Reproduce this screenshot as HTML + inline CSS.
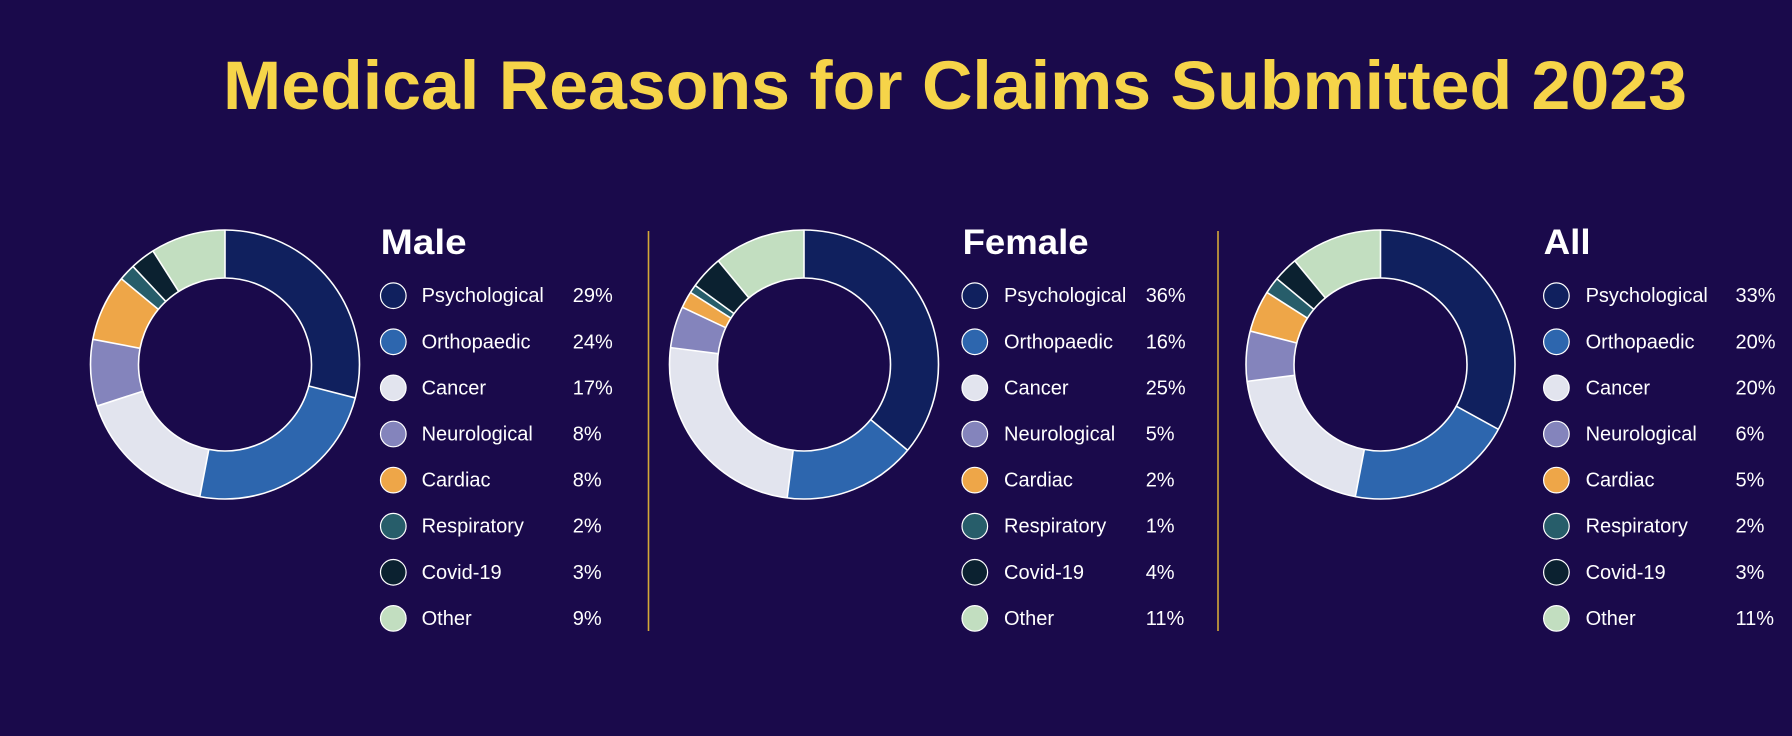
<!DOCTYPE html>
<html>
<head>
<meta charset="utf-8">
<style>
  html, body { margin:0; padding:0; background:#1a0a4b; }
  body { width:1792px; height:736px; overflow:hidden; }
  svg { display:block; }
  .title { font-family:"Liberation Sans", sans-serif; font-weight:bold; font-size:69px; fill:#f6d449; }
  .head { font-family:"Liberation Sans", sans-serif; font-weight:bold; font-size:35px; fill:#ffffff; }
  .lab { font-family:"Liberation Sans", sans-serif; font-size:20px; fill:#ffffff; }
</style>
</head>
<body>
<svg width="1792" height="736" viewBox="0 0 1792 736" xmlns="http://www.w3.org/2000/svg">
  <rect width="1792" height="736" fill="#1a0a4b"/>
  <text class="title" x="223" y="109" textLength="1464" lengthAdjust="spacingAndGlyphs">Medical Reasons for Claims Submitted 2023</text>

  <!-- separators -->
  <line x1="648.5" y1="231" x2="648.5" y2="631" stroke="#d4a838" stroke-width="1.6"/>
  <line x1="1218" y1="231" x2="1218" y2="631" stroke="#d4a838" stroke-width="1.6"/>

  <!-- ===== MALE DONUT ===== -->
  <g transform="translate(225,364.5)">
    <g transform="rotate(-90)" fill="none" stroke-width="48">
      <circle r="110.5" pathLength="100" stroke="#10205e" stroke-dasharray="29 71" stroke-dashoffset="0"/>
      <circle r="110.5" pathLength="100" stroke="#2d66ae" stroke-dasharray="24 76" stroke-dashoffset="-29"/>
      <circle r="110.5" pathLength="100" stroke="#e2e4ee" stroke-dasharray="17 83" stroke-dashoffset="-53"/>
      <circle r="110.5" pathLength="100" stroke="#8484bc" stroke-dasharray="8 92" stroke-dashoffset="-70"/>
      <circle r="110.5" pathLength="100" stroke="#eea648" stroke-dasharray="8 92" stroke-dashoffset="-78"/>
      <circle r="110.5" pathLength="100" stroke="#275d6a" stroke-dasharray="2 98" stroke-dashoffset="-86"/>
      <circle r="110.5" pathLength="100" stroke="#0b2130" stroke-dasharray="3 97" stroke-dashoffset="-88"/>
      <circle r="110.5" pathLength="100" stroke="#c2dec0" stroke-dasharray="9 91" stroke-dashoffset="-91"/>
    </g>
    <g stroke="#ffffff" stroke-width="1.6">
      <line x1="0" y1="-86.5" x2="0" y2="-134.5" transform="rotate(0)"/>
      <line x1="0" y1="-86.5" x2="0" y2="-134.5" transform="rotate(104.4)"/>
      <line x1="0" y1="-86.5" x2="0" y2="-134.5" transform="rotate(190.8)"/>
      <line x1="0" y1="-86.5" x2="0" y2="-134.5" transform="rotate(252)"/>
      <line x1="0" y1="-86.5" x2="0" y2="-134.5" transform="rotate(280.8)"/>
      <line x1="0" y1="-86.5" x2="0" y2="-134.5" transform="rotate(309.6)"/>
      <line x1="0" y1="-86.5" x2="0" y2="-134.5" transform="rotate(316.8)"/>
      <line x1="0" y1="-86.5" x2="0" y2="-134.5" transform="rotate(327.6)"/>
      <circle r="134.5" fill="none"/>
      <circle r="86.5" fill="none"/>
    </g>
  </g>

  <!-- ===== FEMALE DONUT ===== -->
  <g transform="translate(804,364.5)">
    <g transform="rotate(-90)" fill="none" stroke-width="48">
      <circle r="110.5" pathLength="100" stroke="#10205e" stroke-dasharray="36 64" stroke-dashoffset="0"/>
      <circle r="110.5" pathLength="100" stroke="#2d66ae" stroke-dasharray="16 84" stroke-dashoffset="-36"/>
      <circle r="110.5" pathLength="100" stroke="#e2e4ee" stroke-dasharray="25 75" stroke-dashoffset="-52"/>
      <circle r="110.5" pathLength="100" stroke="#8484bc" stroke-dasharray="5 95" stroke-dashoffset="-77"/>
      <circle r="110.5" pathLength="100" stroke="#eea648" stroke-dasharray="2 98" stroke-dashoffset="-82"/>
      <circle r="110.5" pathLength="100" stroke="#275d6a" stroke-dasharray="1 99" stroke-dashoffset="-84"/>
      <circle r="110.5" pathLength="100" stroke="#0b2130" stroke-dasharray="4 96" stroke-dashoffset="-85"/>
      <circle r="110.5" pathLength="100" stroke="#c2dec0" stroke-dasharray="11 89" stroke-dashoffset="-89"/>
    </g>
    <g stroke="#ffffff" stroke-width="1.6">
      <line x1="0" y1="-86.5" x2="0" y2="-134.5" transform="rotate(0)"/>
      <line x1="0" y1="-86.5" x2="0" y2="-134.5" transform="rotate(129.6)"/>
      <line x1="0" y1="-86.5" x2="0" y2="-134.5" transform="rotate(187.2)"/>
      <line x1="0" y1="-86.5" x2="0" y2="-134.5" transform="rotate(277.2)"/>
      <line x1="0" y1="-86.5" x2="0" y2="-134.5" transform="rotate(295.2)"/>
      <line x1="0" y1="-86.5" x2="0" y2="-134.5" transform="rotate(302.4)"/>
      <line x1="0" y1="-86.5" x2="0" y2="-134.5" transform="rotate(306)"/>
      <line x1="0" y1="-86.5" x2="0" y2="-134.5" transform="rotate(320.4)"/>
      <circle r="134.5" fill="none"/>
      <circle r="86.5" fill="none"/>
    </g>
  </g>

  <!-- ===== ALL DONUT ===== -->
  <g transform="translate(1380.5,364.5)">
    <g transform="rotate(-90)" fill="none" stroke-width="48">
      <circle r="110.5" pathLength="100" stroke="#10205e" stroke-dasharray="33 67" stroke-dashoffset="0"/>
      <circle r="110.5" pathLength="100" stroke="#2d66ae" stroke-dasharray="20 80" stroke-dashoffset="-33"/>
      <circle r="110.5" pathLength="100" stroke="#e2e4ee" stroke-dasharray="20 80" stroke-dashoffset="-53"/>
      <circle r="110.5" pathLength="100" stroke="#8484bc" stroke-dasharray="6 94" stroke-dashoffset="-73"/>
      <circle r="110.5" pathLength="100" stroke="#eea648" stroke-dasharray="5 95" stroke-dashoffset="-79"/>
      <circle r="110.5" pathLength="100" stroke="#275d6a" stroke-dasharray="2 98" stroke-dashoffset="-84"/>
      <circle r="110.5" pathLength="100" stroke="#0b2130" stroke-dasharray="3 97" stroke-dashoffset="-86"/>
      <circle r="110.5" pathLength="100" stroke="#c2dec0" stroke-dasharray="11 89" stroke-dashoffset="-89"/>
    </g>
    <g stroke="#ffffff" stroke-width="1.6">
      <line x1="0" y1="-86.5" x2="0" y2="-134.5" transform="rotate(0)"/>
      <line x1="0" y1="-86.5" x2="0" y2="-134.5" transform="rotate(118.8)"/>
      <line x1="0" y1="-86.5" x2="0" y2="-134.5" transform="rotate(190.8)"/>
      <line x1="0" y1="-86.5" x2="0" y2="-134.5" transform="rotate(262.8)"/>
      <line x1="0" y1="-86.5" x2="0" y2="-134.5" transform="rotate(284.4)"/>
      <line x1="0" y1="-86.5" x2="0" y2="-134.5" transform="rotate(302.4)"/>
      <line x1="0" y1="-86.5" x2="0" y2="-134.5" transform="rotate(309.6)"/>
      <line x1="0" y1="-86.5" x2="0" y2="-134.5" transform="rotate(320.4)"/>
      <circle r="134.5" fill="none"/>
      <circle r="86.5" fill="none"/>
    </g>
  </g>

  <!-- ===== MALE LEGEND ===== -->
  <text class="head" x="380.7" y="254" textLength="86" lengthAdjust="spacingAndGlyphs">Male</text>
  <g stroke="#ffffff" stroke-width="1.2">
    <circle cx="393.3" cy="295.7" r="12.8" fill="#10205e"/>
    <circle cx="393.3" cy="341.8" r="12.8" fill="#2d66ae"/>
    <circle cx="393.3" cy="387.9" r="12.8" fill="#e2e4ee"/>
    <circle cx="393.3" cy="434" r="12.8" fill="#8484bc"/>
    <circle cx="393.3" cy="480.1" r="12.8" fill="#eea648"/>
    <circle cx="393.3" cy="526.2" r="12.8" fill="#275d6a"/>
    <circle cx="393.3" cy="572.3" r="12.8" fill="#0b2130"/>
    <circle cx="393.3" cy="618.4" r="12.8" fill="#c2dec0"/>
  </g>
  <g class="lab">
    <text class="lab" x="421.6" y="302.2">Psychological</text>
    <text class="lab" x="421.6" y="348.3">Orthopaedic</text>
    <text class="lab" x="421.6" y="394.4">Cancer</text>
    <text class="lab" x="421.6" y="440.5">Neurological</text>
    <text class="lab" x="421.6" y="486.6">Cardiac</text>
    <text class="lab" x="421.6" y="532.7">Respiratory</text>
    <text class="lab" x="421.6" y="578.8">Covid-19</text>
    <text class="lab" x="421.6" y="624.9">Other</text>
    <text class="lab" x="572.8" y="302.2">29%</text>
    <text class="lab" x="572.8" y="348.3">24%</text>
    <text class="lab" x="572.8" y="394.4">17%</text>
    <text class="lab" x="572.8" y="440.5">8%</text>
    <text class="lab" x="572.8" y="486.6">8%</text>
    <text class="lab" x="572.8" y="532.7">2%</text>
    <text class="lab" x="572.8" y="578.8">3%</text>
    <text class="lab" x="572.8" y="624.9">9%</text>
  </g>

  <!-- ===== FEMALE LEGEND ===== -->
  <text class="head" x="962.6" y="254" textLength="126" lengthAdjust="spacingAndGlyphs">Female</text>
  <g stroke="#ffffff" stroke-width="1.2">
    <circle cx="974.8" cy="295.7" r="12.8" fill="#10205e"/>
    <circle cx="974.8" cy="341.8" r="12.8" fill="#2d66ae"/>
    <circle cx="974.8" cy="387.9" r="12.8" fill="#e2e4ee"/>
    <circle cx="974.8" cy="434" r="12.8" fill="#8484bc"/>
    <circle cx="974.8" cy="480.1" r="12.8" fill="#eea648"/>
    <circle cx="974.8" cy="526.2" r="12.8" fill="#275d6a"/>
    <circle cx="974.8" cy="572.3" r="12.8" fill="#0b2130"/>
    <circle cx="974.8" cy="618.4" r="12.8" fill="#c2dec0"/>
  </g>
  <g>
    <text class="lab" x="1004" y="302.2">Psychological</text>
    <text class="lab" x="1004" y="348.3">Orthopaedic</text>
    <text class="lab" x="1004" y="394.4">Cancer</text>
    <text class="lab" x="1004" y="440.5">Neurological</text>
    <text class="lab" x="1004" y="486.6">Cardiac</text>
    <text class="lab" x="1004" y="532.7">Respiratory</text>
    <text class="lab" x="1004" y="578.8">Covid-19</text>
    <text class="lab" x="1004" y="624.9">Other</text>
    <text class="lab" x="1145.7" y="302.2">36%</text>
    <text class="lab" x="1145.7" y="348.3">16%</text>
    <text class="lab" x="1145.7" y="394.4">25%</text>
    <text class="lab" x="1145.7" y="440.5">5%</text>
    <text class="lab" x="1145.7" y="486.6">2%</text>
    <text class="lab" x="1145.7" y="532.7">1%</text>
    <text class="lab" x="1145.7" y="578.8">4%</text>
    <text class="lab" x="1145.7" y="624.9">11%</text>
  </g>

  <!-- ===== ALL LEGEND ===== -->
  <text class="head" x="1543.6" y="254" textLength="47" lengthAdjust="spacingAndGlyphs">All</text>
  <g stroke="#ffffff" stroke-width="1.2">
    <circle cx="1556.4" cy="295.7" r="12.8" fill="#10205e"/>
    <circle cx="1556.4" cy="341.8" r="12.8" fill="#2d66ae"/>
    <circle cx="1556.4" cy="387.9" r="12.8" fill="#e2e4ee"/>
    <circle cx="1556.4" cy="434" r="12.8" fill="#8484bc"/>
    <circle cx="1556.4" cy="480.1" r="12.8" fill="#eea648"/>
    <circle cx="1556.4" cy="526.2" r="12.8" fill="#275d6a"/>
    <circle cx="1556.4" cy="572.3" r="12.8" fill="#0b2130"/>
    <circle cx="1556.4" cy="618.4" r="12.8" fill="#c2dec0"/>
  </g>
  <g>
    <text class="lab" x="1585.6" y="302.2">Psychological</text>
    <text class="lab" x="1585.6" y="348.3">Orthopaedic</text>
    <text class="lab" x="1585.6" y="394.4">Cancer</text>
    <text class="lab" x="1585.6" y="440.5">Neurological</text>
    <text class="lab" x="1585.6" y="486.6">Cardiac</text>
    <text class="lab" x="1585.6" y="532.7">Respiratory</text>
    <text class="lab" x="1585.6" y="578.8">Covid-19</text>
    <text class="lab" x="1585.6" y="624.9">Other</text>
    <text class="lab" x="1735.5" y="302.2">33%</text>
    <text class="lab" x="1735.5" y="348.3">20%</text>
    <text class="lab" x="1735.5" y="394.4">20%</text>
    <text class="lab" x="1735.5" y="440.5">6%</text>
    <text class="lab" x="1735.5" y="486.6">5%</text>
    <text class="lab" x="1735.5" y="532.7">2%</text>
    <text class="lab" x="1735.5" y="578.8">3%</text>
    <text class="lab" x="1735.5" y="624.9">11%</text>
  </g>
</svg>
</body>
</html>
